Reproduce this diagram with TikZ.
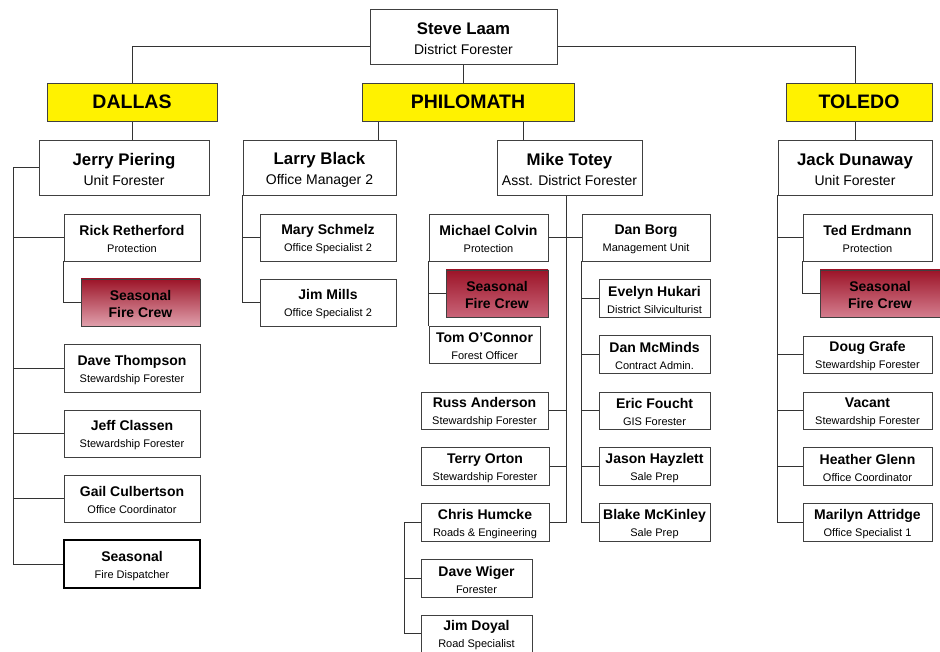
\documentclass[tikz,border=0pt]{standalone}
\usepackage{fontspec}
\setmainfont{Liberation Sans}
\usetikzlibrary{backgrounds}

\definecolor{crewtop}{HTML}{9C1428}
\definecolor{crewlight}{HTML}{E0A0AC}
\definecolor{crewmid}{HTML}{C96478}
\definecolor{crewpink}{HTML}{D47D8E}

\newcommand\hname[1]{\rule{0pt}{17pt}\textbf{#1}}
\newcommand\sname[1]{\rule{0pt}{14pt}\textbf{#1}}
\newcommand\hsub[1]{{\fontsize{14}{20}\selectfont #1}}
\newcommand\ssub[1]{{\fontsize{11}{17}\selectfont #1}}

\begin{document}
\begin{tikzpicture}[x=1pt, y=-1pt,
      head/.style={rectangle, draw=black!75, line width=0.9pt, fill=white, inner sep=0pt,
        minimum height=55pt, align=center, font=\fontsize{16.8}{20}\selectfont},
      staff/.style={rectangle, draw=black!75, line width=0.9pt, fill=white, inner sep=0pt,
        minimum height=38pt, align=center, font=\fontsize{14}{17}\selectfont},
      region/.style={rectangle, draw=black!75, line width=0.9pt, fill=yellow, inner sep=0pt,
        minimum height=38pt, font=\fontsize{19.5}{22}\selectfont\bfseries},
      crew/.style={staff, minimum height=47pt, top color=crewtop, bottom color=#1},
      link/.style={draw=black!80, line width=0.8pt}
    ]
    \useasboundingbox (0,0) rectangle (940,652);

    % --- top level ---
    \node[head, minimum width=187pt] (steve) at (463.5,36.5) {\hname{Steve Laam}\\\hsub{District Forester}};
    \node[region, minimum width=170pt] (dallas) at (132,102) {DALLAS};
    \node[region, minimum width=212pt] (philo) at (468,102) {PHILOMATH};
    \node[region, minimum width=146pt] (toledo) at (859,102) {TOLEDO};

    \node[head, minimum width=170pt] (jerry) at (124,167.5) {\hname{Jerry Piering}\\\hsub{Unit Forester}};
    \node[head, minimum width=153pt] (larry) at (319.5,167.5) {\hname{Larry Black}\\\hsub{Office Manager 2}};
    \node[head, minimum width=145pt] (mike) at (569.5,167.5) {\hname{Mike Totey}\\\hsub{Asst. District Forester}};
    \node[head, minimum width=154pt] (jack) at (855,167.5) {\hname{Jack Dunaway}\\\hsub{Unit Forester}};

    % --- Dallas ---
    \node[staff, minimum width=136pt, minimum height=47pt] (rick) at (132,237.5) {\sname{Rick Retherford}\\\ssub{Protection}};
    \node[crew=crewlight, minimum width=119pt] (crewa) at (140.5,302.5) {\sname{Seasonal}\\\textbf{Fire Crew}};
    \node[staff, minimum width=136pt, minimum height=48pt] (davet) at (132,368) {\sname{Dave Thompson}\\\ssub{Stewardship Forester}};
    \node[staff, minimum width=136pt, minimum height=47pt] (jeff) at (132,433.5) {\sname{Jeff Classen}\\\ssub{Stewardship Forester}};
    \node[staff, minimum width=136pt, minimum height=47pt] (gail) at (132,498.5) {\sname{Gail Culbertson}\\\ssub{Office Coordinator}};
    \node[staff, minimum width=136pt, minimum height=48pt, line width=1.4pt, draw=black] (disp) at (132,564) {\sname{Seasonal}\\\ssub{Fire Dispatcher}};

    % --- Philomath, office ---
    \node[staff, minimum width=136pt, minimum height=47pt] (mary) at (328,237.5) {\sname{Mary Schmelz}\\\ssub{Office Specialist 2}};
    \node[staff, minimum width=136pt, minimum height=47pt] (jim) at (328,302.5) {\sname{Jim Mills}\\\ssub{Office Specialist 2}};

    % --- Philomath, field ---
    \node[staff, minimum width=119pt, minimum height=47pt] (colvin) at (488.5,237.5) {\sname{Michael Colvin}\\\ssub{Protection}};
    \node[crew=crewmid, minimum width=102pt] (crewb) at (497,293.5) {\sname{Seasonal}\\\textbf{Fire Crew}};
    \node[staff, minimum width=111pt, minimum height=37pt] (tom) at (484.5,344.5) {\sname{Tom O'Connor}\\\ssub{Forest Officer}};
    \node[staff, minimum width=127pt, minimum height=37pt] (russ) at (484.5,410.5) {\sname{Russ Anderson}\\\ssub{Stewardship Forester}};
    \node[staff, minimum width=128pt] (terry) at (485,466) {\sname{Terry Orton}\\\ssub{Stewardship Forester}};
    \node[staff, minimum width=128pt] (chris) at (485,522) {\sname{Chris Humcke}\\\ssub{Roads \& Engineering}};
    \node[staff, minimum width=111pt] (wiger) at (476.5,578) {\sname{Dave Wiger}\\\ssub{Forester}};
    \node[staff, minimum width=111pt, minimum height=37pt] (doyal) at (476.5,633.5) {\sname{Jim Doyal}\\\ssub{Road Specialist}};

    \node[staff, minimum width=128pt, minimum height=47pt] (borg) at (646,237.5) {\sname{Dan Borg}\\\ssub{Management Unit}};
    \node[staff, minimum width=111pt] (evelyn) at (654.5,298) {\sname{Evelyn Hukari}\\\ssub{District Silviculturist}};
    \node[staff, minimum width=111pt] (mcminds) at (654.5,354) {\sname{Dan McMinds}\\\ssub{Contract Admin.}};
    \node[staff, minimum width=111pt, minimum height=37pt] (foucht) at (654.5,410.5) {\sname{Eric Foucht}\\\ssub{GIS Forester}};
    \node[staff, minimum width=111pt] (jason) at (654.5,466) {\sname{Jason Hayzlett}\\\ssub{Sale Prep}};
    \node[staff, minimum width=111pt] (blake) at (654.5,522) {\sname{Blake McKinley}\\\ssub{Sale Prep}};

    % --- Toledo ---
    \node[staff, minimum width=129pt, minimum height=47pt] (ted) at (867.5,237.5) {\sname{Ted Erdmann}\\\ssub{Protection}};
    \node[crew=crewpink, minimum width=120pt] (crewc) at (880,293.5) {\sname{Seasonal}\\\textbf{Fire Crew}};
    \node[staff, minimum width=129pt, minimum height=37pt] (doug) at (867.5,354.5) {\sname{Doug Grafe}\\\ssub{Stewardship Forester}};
    \node[staff, minimum width=129pt, minimum height=37pt] (vacant) at (867.5,410.5) {\sname{Vacant}\\\ssub{Stewardship Forester}};
    \node[staff, minimum width=129pt] (heather) at (867.5,466) {\sname{Heather Glenn}\\\ssub{Office Coordinator}};
    \node[staff, minimum width=129pt] (marilyn) at (867.5,522) {\sname{Marilyn Attridge}\\\ssub{Office Specialist 1}};

    \coordinate (dtrunk) at (13,0);
    \coordinate (plarry) at (378,0);
    \coordinate (pmike) at (523,0);
    \coordinate (mtrunk) at (566,0);
    \coordinate (ctrunk) at (404,0);

    \begin{scope}[on background layer]
      \draw[link] ([yshift=-9.5pt]steve.west) -| (dallas.north);
      \draw[link] ([yshift=-9.5pt]steve.east) -| (jack.north);
      \draw[link] (steve.south) -- (steve.south |- philo.north);
      \draw[link] (dallas.south) -- (dallas.south |- jerry.north);
      \draw[link] (philo.south -| plarry) -- (larry.north -| plarry);
      \draw[link] (philo.south -| pmike) -- (mike.north -| pmike);

      % Dallas
      \draw[link] (jerry.west) -| (dtrunk |- disp.west) -- (disp.west);
      \foreach \n in {rick,davet,jeff,gail}
        \draw[link] (dtrunk |- \n.west) -- (\n.west);
      \draw[link] (rick.south west) |- (crewa.west);

      % Philomath
      \draw[link] (larry.south west) |- (jim.west);
      \draw[link] (larry.south west |- mary.west) -- (mary.west);
      \draw[link] (mike.south -| mtrunk) -- (mtrunk |- chris.east) -- (chris.east);
      \foreach \n in {russ,terry}
        \draw[link] (\n.east) -- (mtrunk |- \n.east);
      \draw[link] (colvin.east) -- (borg.west);
      \draw[link] (colvin.south west) -- (tom.north west);
      \draw[link] (colvin.south west |- crewb.west) -- (crewb.west);
      \draw[link] (chris.west) -| (ctrunk |- doyal.west) -- (doyal.west);
      \draw[link] (ctrunk |- wiger.west) -- (wiger.west);
      \draw[link] (borg.south west) |- (blake.west);
      \foreach \n in {evelyn,mcminds,foucht,jason}
        \draw[link] (borg.south west |- \n.west) -- (\n.west);

      % Toledo
      \draw[link] (toledo.south -| jack.north) -- (jack.north);
      \draw[link] (jack.south west) |- (marilyn.west);
      \foreach \n in {ted,doug,vacant,heather}
        \draw[link] (jack.south west |- \n.west) -- (\n.west);
      \draw[link] (ted.south west) |- (crewc.west);
    \end{scope}
  \end{tikzpicture}
\end{document}
